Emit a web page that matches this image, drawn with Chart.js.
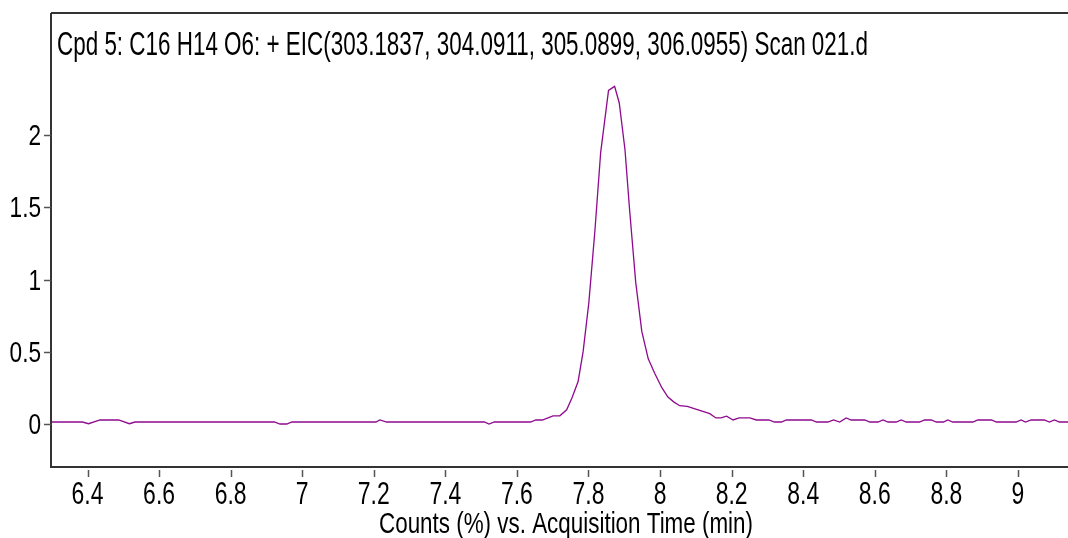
<!DOCTYPE html>
<html lang="en">
<head>
  <meta charset="UTF-8">
  <title>EIC - Cpd 5</title>
  <script src="https://cdn.jsdelivr.net/npm/chart.js"></script>
  <style>
    html, body { margin: 0; padding: 0; background: #fff; }
    canvas { display: block; }
  </style>
</head>
<body>
  <canvas id="eic" width="1068" height="538"></canvas>

  <script>
    // chromatogram vertices (min, counts %)
    const retentionTime = [
      6.299, 6.386, 6.403, 6.435, 6.487, 6.517, 6.533, 6.922, 6.938, 6.957,
      6.971, 7.206, 7.217, 7.236, 7.509, 7.522, 7.537, 7.638, 7.653, 7.671,
      7.701, 7.720, 7.739, 7.754, 7.771, 7.785, 7.801, 7.818, 7.834, 7.856,
      7.873, 7.886, 7.902, 7.915, 7.932, 7.949, 7.967, 7.985, 8.005, 8.022,
      8.039, 8.055, 8.076, 8.139, 8.156, 8.170, 8.186, 8.204, 8.221, 8.251,
      8.269, 8.304, 8.320, 8.339, 8.353, 8.423, 8.437, 8.469, 8.485, 8.502,
      8.520, 8.534, 8.572, 8.586, 8.609, 8.623, 8.637, 8.660, 8.674, 8.688,
      8.725, 8.739, 8.758, 8.772, 8.792, 8.804, 8.818, 8.874, 8.888, 8.926,
      8.940, 8.995, 9.009, 9.021, 9.037, 9.074, 9.088, 9.102, 9.116, 9.140
    ];
    const counts = [
      0.012, 0.012, 0.000, 0.026, 0.026, 0.000, 0.012, 0.012, -0.002, -0.002,
      0.012, 0.012, 0.026, 0.012, 0.012, -0.002, 0.012, 0.012, 0.026, 0.026,
      0.055, 0.055, 0.097, 0.180, 0.293, 0.500, 0.840, 1.340, 1.880, 2.311,
      2.339, 2.224, 1.900, 1.480, 0.980, 0.640, 0.450, 0.350, 0.250, 0.185,
      0.150, 0.125, 0.120, 0.070, 0.040, 0.040, 0.053, 0.026, 0.040, 0.040,
      0.026, 0.026, 0.012, 0.012, 0.026, 0.026, 0.012, 0.012, 0.026, 0.012,
      0.040, 0.026, 0.026, 0.012, 0.012, 0.026, 0.012, 0.012, 0.026, 0.012,
      0.012, 0.026, 0.026, 0.012, 0.012, 0.026, 0.012, 0.012, 0.026, 0.026,
      0.012, 0.012, 0.026, 0.012, 0.026, 0.026, 0.012, 0.026, 0.012, 0.012
    ];
    const xTickValues = [6.4, 6.6, 6.8, 7, 7.2, 7.4, 7.6, 7.8, 8, 8.2, 8.4, 8.6, 8.8, 9];
    const yTickValues = [0, 0.5, 1, 1.5, 2];
    const titleText = "Cpd 5: C16 H14 O6: + EIC(303.1837, 304.0911, 305.0899, 306.0955) Scan 021.d";
    const xAxisTitle = "Counts (%) vs. Acquisition Time (min)";

    const FONT = '"Liberation Sans", Arial, sans-serif';

    // squeezed text, the original uses a condensed face
    function drawSqueezed(ctx, text, x, y, size, sx, align) {
      ctx.save();
      ctx.font = size + 'px ' + FONT;
      ctx.textBaseline = 'alphabetic';
      ctx.textAlign = 'left';
      const w = ctx.measureText(text).width * sx;
      let left = x;
      if (align === 'right') left = x - w;
      if (align === 'center') left = x - w / 2;
      ctx.translate(left, y);
      ctx.scale(sx, 1);
      ctx.fillText(text, 0, 0);
      ctx.restore();
    }

    function fitWidth(ctx, text, size, target) {
      ctx.save();
      ctx.font = size + 'px ' + FONT;
      const w = ctx.measureText(text).width;
      ctx.restore();
      return target / w;
    }

    const frameAndLabels = {
      id: 'frameAndLabels',
      afterDraw(chart) {
        const ctx = chart.ctx;
        const area = chart.chartArea;
        const xs = chart.scales.x;
        const ys = chart.scales.y;

        ctx.save();
        // axes + top frame
        ctx.strokeStyle = '#333333';
        ctx.lineWidth = 2;
        ctx.beginPath();
        ctx.moveTo(area.left, area.top);
        ctx.lineTo(area.right, area.top);
        ctx.moveTo(area.left, area.top);
        ctx.lineTo(area.left, area.bottom);
        ctx.lineTo(area.right, area.bottom);
        ctx.stroke();

        // tick marks
        ctx.strokeStyle = '#555555';
        ctx.lineWidth = 1.5;
        ctx.beginPath();
        xTickValues.forEach(v => {
          const px = Math.round(xs.getPixelForValue(v)) + 0.5;
          ctx.moveTo(px, area.bottom + 3);
          ctx.lineTo(px, area.bottom + 10);
        });
        yTickValues.forEach(v => {
          const py = Math.round(ys.getPixelForValue(v)) + 0.5;
          ctx.moveTo(area.left - 7, py);
          ctx.lineTo(area.left, py);
        });
        ctx.stroke();

        ctx.fillStyle = '#000000';
        xTickValues.forEach(v => {
          drawSqueezed(ctx, String(v), xs.getPixelForValue(v), area.bottom + 37, 31, 0.74, 'center');
        });
        yTickValues.forEach(v => {
          drawSqueezed(ctx, String(v), area.left - 10, ys.getPixelForValue(v) + 10, 29, 0.78, 'right');
        });

        const ts = fitWidth(ctx, titleText, 33, 811);
        drawSqueezed(ctx, titleText, 57, 55, 33, ts, 'left');

        const as = fitWidth(ctx, xAxisTitle, 30, 374);
        drawSqueezed(ctx, xAxisTitle, 566, 533, 30, as, 'center');
        ctx.restore();
      }
    };

    const points = retentionTime.map((t, i) => ({ x: t, y: counts[i] }));

    new Chart(document.getElementById('eic').getContext('2d'), {
      type: 'line',
      data: {
        datasets: [{
          data: points,
          borderColor: '#8e0a8e',
          borderWidth: 1.3,
          pointRadius: 0,
          tension: 0,
          fill: false
        }]
      },
      options: {
        responsive: false,
        animation: false,
        layout: { padding: { left: 51, top: 13, right: 0, bottom: 71 } },
        plugins: { legend: { display: false }, tooltip: { enabled: false } },
        scales: {
          x: {
            type: 'linear',
            display: false,
            min: 6.298,
            max: 9.14
          },
          y: {
            type: 'linear',
            display: false,
            min: -0.30,
            max: 2.848
          }
        }
      },
      plugins: [frameAndLabels]
    });
  </script>
</body>
</html>
